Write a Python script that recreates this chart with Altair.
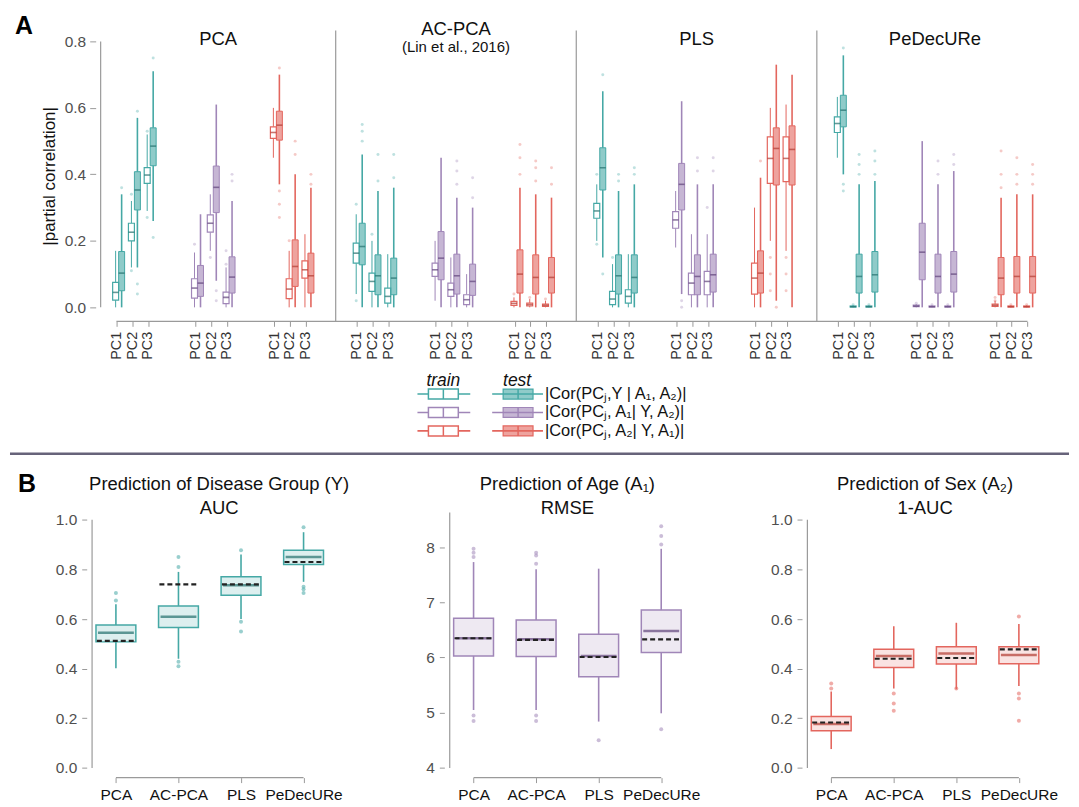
import json
import altair as alt
import pandas as pd

# ---------------------------------------------------------------- data
METHODS = ["PCA", "AC-PCA", "PLS", "PeDecURe"]
GROUPS = ["Y", "A1", "A2"]
PCS = ["PC1", "PC2", "PC3"]
SPLITS = ["train", "test"]
LEGEND_LABELS = ["|Cor(PCⱼ,Y | A₁, A₂)|", "|Cor(PCⱼ, A₁| Y, A₂)|", "|Cor(PCⱼ, A₂| Y, A₁)|"]
Y_TICKS_A = [0.0, 0.2, 0.4, 0.6, 0.8]

# Panel A box statistics; order: group (Y, A1, A2) > PC (1..3) > split (train, test)
PCA_LO = [0.00, 0.00, 0.12, 0.12, 0.29, 0.26, 0.00, 0.00, 0.17, 0.08, 0.00, 0.00, 0.45, 0.37, 0.00, 0.00, 0.00, 0.00]
PCA_Q1 = [0.022, 0.050, 0.200, 0.293, 0.373, 0.426, 0.028, 0.033, 0.226, 0.285, 0.011, 0.043, 0.508, 0.503, 0.026, 0.063, 0.088, 0.043]
PCA_MED = [0.045, 0.103, 0.226, 0.353, 0.398, 0.485, 0.058, 0.073, 0.253, 0.361, 0.030, 0.091, 0.526, 0.548, 0.055, 0.123, 0.113, 0.095]
PCA_Q3 = [0.075, 0.168, 0.253, 0.408, 0.420, 0.540, 0.086, 0.126, 0.278, 0.425, 0.046, 0.152, 0.543, 0.590, 0.086, 0.203, 0.140, 0.163]
PCA_HI = [0.17, 0.34, 0.32, 0.57, 0.52, 0.71, 0.165, 0.28, 0.34, 0.61, 0.12, 0.32, 0.60, 0.70, 0.17, 0.40, 0.22, 0.36]
PCA_OUT = [(1, 0.36), (2, 0.34), (2, 0.11), (3, 0.59), (3, 0.04), (3, 0.07), (4, 0.27), (4, 0.53), (5, 0.21),
           (5, 0.75), (6, 0.19), (8, 0.15), (9, 0.02), (9, 0.05), (10, 0.13), (10, 0.17), (11, 0.38), (11, 0.40),
           (13, 0.27), (13, 0.31), (13, 0.35), (13, 0.72), (14, 0.20), (15, 0.46), (15, 0.50), (17, 0.37), (17, 0.40)]

ACPCA_LO = [0.04, 0.00, 0.00, 0.00, 0.00, 0.00, 0.02, 0.00, 0.00, 0.00, 0.00, 0.00, 0.00, 0.00, 0.00, 0.00, 0.00, 0.00]
ACPCA_Q1 = [0.133, 0.128, 0.048, 0.038, 0.013, 0.038, 0.093, 0.083, 0.033, 0.040, 0.008, 0.036, 0.006, 0.043, 0.004, 0.040, 0.003, 0.043]
ACPCA_MED = [0.163, 0.183, 0.078, 0.095, 0.033, 0.088, 0.113, 0.148, 0.053, 0.095, 0.023, 0.078, 0.012, 0.100, 0.008, 0.090, 0.006, 0.090]
ACPCA_Q3 = [0.193, 0.253, 0.103, 0.158, 0.058, 0.148, 0.133, 0.228, 0.073, 0.160, 0.038, 0.130, 0.018, 0.173, 0.013, 0.158, 0.010, 0.150]
ACPCA_HI = [0.28, 0.46, 0.20, 0.35, 0.16, 0.36, 0.20, 0.45, 0.15, 0.33, 0.10, 0.30, 0.03, 0.36, 0.025, 0.34, 0.02, 0.33]
ACPCA_OUT = [(0, 0.31), (0, 0.02), (1, 0.50), (1, 0.53), (1, 0.55), (2, 0.22), (3, 0.38), (3, 0.46), (5, 0.39),
             (5, 0.46), (9, 0.37), (9, 0.41), (9, 0.44), (11, 0.33), (11, 0.39), (12, 0.04), (13, 0.40), (13, 0.45),
             (13, 0.49), (14, 0.03), (15, 0.38), (15, 0.42), (15, 0.44), (16, 0.025), (17, 0.37), (17, 0.42)]

PLS_LO = [0.20, 0.15, 0.00, 0.00, 0.00, 0.00, 0.18, 0.04, 0.00, 0.00, 0.00, 0.00, 0.00, 0.00, 0.20, 0.02, 0.17, 0.00]
PLS_Q1 = [0.268, 0.353, 0.008, 0.040, 0.013, 0.043, 0.238, 0.293, 0.038, 0.038, 0.038, 0.046, 0.040, 0.043, 0.373, 0.368, 0.378, 0.368]
PLS_MED = [0.290, 0.420, 0.025, 0.095, 0.033, 0.090, 0.263, 0.370, 0.073, 0.093, 0.078, 0.098, 0.088, 0.103, 0.448, 0.478, 0.448, 0.475]
PLS_Q3 = [0.313, 0.480, 0.048, 0.158, 0.053, 0.158, 0.288, 0.433, 0.103, 0.158, 0.108, 0.160, 0.133, 0.170, 0.513, 0.540, 0.513, 0.546]
PLS_HI = [0.37, 0.65, 0.13, 0.35, 0.16, 0.37, 0.35, 0.62, 0.22, 0.37, 0.22, 0.37, 0.30, 0.39, 0.60, 0.73, 0.61, 0.70]
PLS_OUT = [(0, 0.19), (0, 0.40), (1, 0.10), (1, 0.70), (2, 0.15), (3, 0.38), (3, 0.40), (5, 0.40), (5, 0.42),
           (7, 0.00), (7, 0.02), (9, 0.41), (9, 0.45), (10, 0.30), (11, 0.41), (11, 0.45), (13, 0.44), (14, 0.05),
           (14, 0.10), (14, 0.15), (15, 0.00), (16, 0.05), (16, 0.10), (16, 0.15)]

PDU_LO = [0.45, 0.40, 0.00, 0.00, 0.00, 0.00, 0.00, 0.00, 0.00, 0.00, 0.00, 0.00, 0.00, 0.00, 0.00, 0.00, 0.00, 0.00]
PDU_Q1 = [0.526, 0.543, 0.001, 0.043, 0.001, 0.046, 0.002, 0.083, 0.001, 0.043, 0.001, 0.046, 0.003, 0.038, 0.001, 0.043, 0.001, 0.043]
PDU_MED = [0.553, 0.593, 0.002, 0.093, 0.002, 0.098, 0.004, 0.166, 0.002, 0.093, 0.002, 0.100, 0.006, 0.088, 0.002, 0.093, 0.002, 0.093]
PDU_Q3 = [0.573, 0.638, 0.004, 0.160, 0.004, 0.168, 0.007, 0.253, 0.004, 0.160, 0.004, 0.168, 0.010, 0.150, 0.004, 0.153, 0.004, 0.153]
PDU_HI = [0.633, 0.758, 0.006, 0.37, 0.006, 0.38, 0.010, 0.50, 0.006, 0.37, 0.006, 0.41, 0.020, 0.33, 0.006, 0.34, 0.006, 0.34]
PDU_OUT = [(1, 0.35), (1, 0.37), (1, 0.78), (2, 0.008), (3, 0.40), (3, 0.43), (3, 0.46), (4, 0.008), (5, 0.40),
           (5, 0.44), (5, 0.47), (6, 0.012), (8, 0.008), (9, 0.40), (9, 0.44), (10, 0.008), (11, 0.43), (11, 0.46),
           (12, 0.02), (12, 0.03), (13, 0.36), (13, 0.40), (13, 0.47), (14, 0.008), (15, 0.37), (15, 0.40),
           (15, 0.45), (16, 0.008), (17, 0.37), (17, 0.40), (17, 0.43)]

# Panel B box statistics (one value per method)
AUC_LO = [0.402, 0.44, 0.60, 0.75]
AUC_Q1 = [0.508, 0.566, 0.696, 0.820]
AUC_MED = [0.545, 0.609, 0.736, 0.850]
AUC_Q3 = [0.576, 0.653, 0.770, 0.877]
AUC_HI = [0.66, 0.79, 0.86, 0.95]
AUC_REF = [0.512, 0.740, 0.740, 0.830]
AUC_OUT = [(0, 0.675), (0, 0.705), (1, 0.81), (1, 0.85), (1, 0.428), (1, 0.41), (2, 0.877), (2, 0.589),
           (2, 0.55), (3, 0.97), (3, 0.73), (3, 0.72), (3, 0.705)]

RMSE_LO = [5.05, 5.05, 4.84, 4.99]
RMSE_Q1 = [6.03, 6.02, 5.65, 6.09]
RMSE_MED = [6.35, 6.33, 6.03, 6.48]
RMSE_Q3 = [6.71, 6.68, 6.42, 6.86]
RMSE_HI = [7.73, 7.60, 7.61, 7.97]
RMSE_REF = [6.35, 6.32, 6.01, 6.33]
RMSE_OUT = [(0, 7.82), (0, 7.90), (0, 7.97), (0, 4.95), (0, 4.85), (1, 7.70), (1, 7.85), (1, 7.90), (1, 4.95),
            (1, 4.85), (2, 4.50), (3, 8.05), (3, 8.20), (3, 8.38), (3, 4.70)]

SEX_LO = [0.076, 0.32, 0.317, 0.33]
SEX_Q1 = [0.150, 0.405, 0.419, 0.420]
SEX_MED = [0.177, 0.451, 0.461, 0.455]
SEX_Q3 = [0.207, 0.478, 0.488, 0.488]
SEX_HI = [0.308, 0.571, 0.585, 0.58]
SEX_REF = [0.183, 0.440, 0.443, 0.478]
SEX_OUT = [(0, 0.32), (0, 0.34), (1, 0.30), (1, 0.26), (1, 0.23), (2, 0.32), (3, 0.61), (3, 0.30), (3, 0.28),
           (3, 0.19)]

# ---------------------------------------------------------------- style / geometry
FONT = "Liberation Sans"
COL = ["#45a8a5", "#a086b8", "#e3665e"]
DARK = ["#23706d", "#5f437a", "#b23a32"]
AXIS_GREY = "#9a9a9a"
LABEL_GREY = "#4f4f4f"
TITLE_SIZE = 18.5
TICK_SIZE = 15.5

PANEL_STEP = 15.25
GROUP_STEP = 5
SPLIT_OFF = [-0.05, 0.33]
SEP_OFF = 13.9
X_MIN, X_MAX = -1.0, 59.375
Y_MIN, Y_MAX = -0.042, 0.833
A_W, A_H = 966, 292

STATS_A = [
    (PCA_LO, PCA_Q1, PCA_MED, PCA_Q3, PCA_HI, PCA_OUT),
    (ACPCA_LO, ACPCA_Q1, ACPCA_MED, ACPCA_Q3, ACPCA_HI, ACPCA_OUT),
    (PLS_LO, PLS_Q1, PLS_MED, PLS_Q3, PLS_HI, PLS_OUT),
    (PDU_LO, PDU_Q1, PDU_MED, PDU_Q3, PDU_HI, PDU_OUT),
]


def box_pos(m, b):
    g, p, s = b // 6, (b // 2) % 3, b % 2
    return m * PANEL_STEP + g * GROUP_STEP + p + SPLIT_OFF[s], g, s


rows, orows = [], []
for m, (lo, q1, med, q3, hi, out) in enumerate(STATS_A):
    for b in range(18):
        pos, g, s = box_pos(m, b)
        rows.append(dict(pos=pos, split=SPLITS[s], lo=lo[b], q1=q1[b], med=med[b], q3=q3[b], hi=hi[b],
                         col=COL[g], dark=DARK[g], sw=1.0 if s == 0 else 1.6))
    for b, v in out:
        pos, g, s = box_pos(m, b)
        orows.append(dict(pos=pos, v=v, col=COL[g]))
dfA = pd.DataFrame(rows)
dfO = pd.DataFrame(orows)

tick_vals = [m * PANEL_STEP + g * GROUP_STEP + p for m in range(4) for g in range(3) for p in range(3)]
sep_x = [m * PANEL_STEP + SEP_OFF for m in range(3)]
bounds = [X_MIN] + sep_x + [X_MAX]
centers = [(bounds[i] + bounds[i + 1]) / 2 for i in range(4)]

xsA = alt.Scale(domain=[X_MIN, X_MAX], nice=False, zero=False)
ysA = alt.Scale(domain=[Y_MIN, Y_MAX], nice=False, zero=False)
label_expr = (json.dumps(PCS) + "[round(datum.value - %s*floor((datum.value+1)/%s)) %% %d]"
              % (PANEL_STEP, PANEL_STEP, GROUP_STEP))
xaxA = alt.Axis(values=tick_vals, labelExpr=label_expr, labelAngle=270, labelAlign="right",
                labelBaseline="middle", labelFontSize=14.5, labelColor="#333333", labelOverlap=False,
                labelFlush=False, domain=False, tickSize=5, tickColor=AXIS_GREY, labelPadding=5,
                grid=False, title=None)
yaxA = alt.Axis(values=Y_TICKS_A, format=".1f", domain=False, tickSize=6, tickColor=AXIS_GREY,
                labelPadding=4, labelFontSize=TICK_SIZE, labelColor=LABEL_GREY, grid=False,
                title="|partial correlation|", titleFontSize=17, titleFontWeight="normal",
                titleColor="#111111", titlePadding=6)


def XA(f):
    return alt.X(f, scale=xsA, axis=xaxA)


def YA(f):
    return alt.Y(f, scale=ysA, axis=yaxA)


one = pd.DataFrame({"k": [0]})
baseA = alt.Chart(dfA)

whisk_lo = baseA.mark_rule().encode(x=XA("pos:Q"), y=YA("lo:Q"), y2="q1:Q",
                                    stroke=alt.Stroke("col:N", scale=None),
                                    strokeWidth=alt.StrokeWidth("sw:Q", scale=None))
whisk_hi = baseA.mark_rule().encode(x=XA("pos:Q"), y=YA("q3:Q"), y2="hi:Q",
                                    stroke=alt.Stroke("col:N", scale=None),
                                    strokeWidth=alt.StrokeWidth("sw:Q", scale=None))
outl = alt.Chart(dfO).mark_circle(size=9, opacity=0.35).encode(
    x=XA("pos:Q"), y=YA("v:Q"), color=alt.Color("col:N", scale=None))
train_box = baseA.transform_filter("datum.split == 'train'").mark_bar(
    size=6, fill="white", strokeWidth=1.2).encode(
    x=XA("pos:Q"), y=YA("q1:Q"), y2="q3:Q", stroke=alt.Stroke("col:N", scale=None))
test_box = baseA.transform_filter("datum.split == 'test'").mark_bar(
    size=6, fillOpacity=0.6, strokeWidth=1).encode(
    x=XA("pos:Q"), y=YA("q1:Q"), y2="q3:Q", fill=alt.Fill("col:N", scale=None),
    stroke=alt.Stroke("col:N", scale=None))
medA = baseA.mark_tick(orient="horizontal", size=6, thickness=1.6).encode(
    x=XA("pos:Q"), y=YA("med:Q"), color=alt.Color("dark:N", scale=None))

seps = alt.Chart(pd.DataFrame({"sx": sep_x})).mark_rule(color=AXIS_GREY, strokeWidth=1.2).encode(
    x=XA("sx:Q"), y=alt.YDatum(Y_MIN, scale=ysA, axis=yaxA), y2=alt.Y2Datum(Y_MAX))
yline = alt.Chart(one).mark_rule(color=AXIS_GREY, strokeWidth=1.2).encode(
    x=alt.XDatum(X_MIN, scale=xsA, axis=xaxA), y=alt.YDatum(0.0, scale=ysA, axis=yaxA),
    y2=alt.Y2Datum(Y_TICKS_A[-1]))
xline = alt.Chart(one).mark_rule(color=AXIS_GREY, strokeWidth=1.2).encode(
    y=alt.YDatum(Y_MIN, scale=ysA, axis=yaxA), x=alt.XDatum(tick_vals[0], scale=xsA, axis=xaxA),
    x2=alt.X2Datum(tick_vals[-1]))

titles_df = pd.DataFrame({"tx": centers, "label": METHODS})
title_main = alt.Chart(titles_df).transform_filter("datum.label != 'AC-PCA'").mark_text(
    fontSize=TITLE_SIZE, color="#111111").encode(x=XA("tx:Q"), y=alt.value(9), text="label:N")
title_ac = alt.Chart(titles_df).transform_filter("datum.label == 'AC-PCA'").mark_text(
    fontSize=TITLE_SIZE, color="#111111").encode(x=XA("tx:Q"), y=alt.value(-1), text="label:N")
title_sub = alt.Chart(titles_df).transform_filter("datum.label == 'AC-PCA'").mark_text(
    fontSize=15, color="#111111").encode(x=XA("tx:Q"), y=alt.value(17), text=alt.value("(Lin et al., 2016)"))

# legend (drawn below panel A)
LEG_Y0, LEG_DY = 365, 18.5
leg = pd.DataFrame({"label": LEGEND_LABELS, "col": COL,
                    "ly": [LEG_Y0 + i * LEG_DY for i in range(3)]})
leg["ly0"] = leg["ly"] - 5
leg["ly1"] = leg["ly"] + 5
legB = alt.Chart(leg)
LY = alt.Y("ly:Q", scale=None, axis=None)
LY0 = alt.Y("ly0:Q", scale=None, axis=None)
leg_layers = []
for (w0, w1, b0, b1, filled) in [(323, 376, 334, 364, False), (398, 449, 409, 439, True)]:
    leg_layers.append(legB.mark_rule(strokeWidth=1.6).encode(
        x=alt.value(w0), x2=alt.value(w1), y=LY, stroke=alt.Stroke("col:N", scale=None)))
    if filled:
        leg_layers.append(legB.mark_rect(fillOpacity=0.6, strokeWidth=1.2).encode(
            x=alt.value(b0), x2=alt.value(b1), y=LY0, y2="ly1:Q",
            fill=alt.Fill("col:N", scale=None), stroke=alt.Stroke("col:N", scale=None)))
    else:
        leg_layers.append(legB.mark_rect(fill="white", strokeWidth=1.5).encode(
            x=alt.value(b0), x2=alt.value(b1), y=LY0, y2="ly1:Q",
            stroke=alt.Stroke("col:N", scale=None)))
    leg_layers.append(legB.mark_rule(strokeWidth=1.5).encode(
        x=alt.value((b0 + b1) / 2), y=LY0, y2="ly1:Q", stroke=alt.Stroke("col:N", scale=None)))
leg_layers.append(legB.mark_text(align="left", baseline="middle", fontSize=16.5, color="#111111").encode(
    x=alt.value(451), y=LY, text="label:N"))
leg_head = alt.Chart(pd.DataFrame({"t": ["train", "test"], "hx": [349, 423]})).mark_text(
    fontSize=17.5, fontStyle="italic", color="#111111").encode(
    x=alt.X("hx:Q", scale=None, axis=None), y=alt.value(352), text="t:N")

# decorations: panel letters, divider line, top-left anchor
letter_A = alt.Chart(one).mark_text(fontSize=25, fontWeight="bold", color="#000000").encode(
    x=alt.value(-72), y=alt.value(-4), text=alt.value("A"))
letter_B = alt.Chart(one).mark_text(fontSize=25, fontWeight="bold", color="#000000").encode(
    x=alt.value(-69), y=alt.value(455), text=alt.value("B"))
divider = alt.Chart(one).mark_rule(color="#67637a", strokeWidth=2.5).encode(
    x=alt.value(-86), x2=alt.value(977), y=alt.value(425))
anchor = alt.Chart(one).mark_rule(color="white", strokeWidth=1).encode(
    x=alt.value(-86), x2=alt.value(-85), y=alt.value(-20))

panelA = alt.layer(
    anchor, seps, yline, xline, whisk_lo, whisk_hi, outl, train_box, test_box, medA,
    title_main, title_ac, title_sub, *leg_layers, leg_head, letter_A, letter_B, divider,
).properties(width=A_W, height=A_H)

# ---------------------------------------------------------------- panel B
B_STEP = 65.65
B_PAD = 0.244
B_W = round((len(METHODS) - 1 + 2 * B_PAD) * B_STEP)
B_H = 266
AXIS_OFF = 9


def box_panel(lo, q1, med, q3, hi, ref, out, color, dark, ydom, yvals, yfmt, yline_rng, t1, t2, tx):
    n = len(METHODS)
    df = pd.DataFrame({"i": list(range(n)), "lo": lo, "q1": q1, "med": med, "q3": q3, "hi": hi, "ref": ref})
    dfo = pd.DataFrame({"i": [o[0] for o in out], "v": [o[1] for o in out]})
    xs = alt.Scale(domain=[-B_PAD, n - 1 + B_PAD], nice=False, zero=False)
    ys = alt.Scale(domain=ydom, nice=False, zero=False)
    xax = alt.Axis(values=list(range(n)), labelExpr=json.dumps(METHODS) + "[datum.value]", domain=False,
                   tickSize=5, tickColor=AXIS_GREY, labelPadding=5, labelFontSize=TICK_SIZE,
                   labelColor="#111111", labelFlush=False, labelOverlap=False, grid=False, title=None)
    yax = alt.Axis(values=yvals, format=yfmt, offset=AXIS_OFF, domain=False, tickSize=5, tickColor=AXIS_GREY,
                   labelPadding=5, labelFontSize=TICK_SIZE, labelColor=LABEL_GREY, grid=False, title=None)
    X = alt.X("i:Q", scale=xs, axis=xax)

    def Y(f):
        return alt.Y(f, scale=ys, axis=yax)

    base = alt.Chart(df)
    half = 20 / B_STEP
    layers = [
        alt.Chart(one).mark_rule(color=AXIS_GREY, strokeWidth=1.2).encode(
            x=alt.XDatum(-B_PAD - AXIS_OFF / B_STEP, scale=xs, axis=xax),
            y=alt.YDatum(yline_rng[0], scale=ys, axis=yax), y2=alt.Y2Datum(yline_rng[1])),
        alt.Chart(one).mark_rule(color=AXIS_GREY, strokeWidth=1.2).encode(
            y=alt.YDatum(ydom[0], scale=ys, axis=yax), x=alt.XDatum(0, scale=xs, axis=xax),
            x2=alt.X2Datum(n - 1)),
        base.mark_rule(color=color, strokeWidth=1.6).encode(x=X, y=Y("lo:Q"), y2="q1:Q"),
        base.mark_rule(color=color, strokeWidth=1.6).encode(x=X, y=Y("q3:Q"), y2="hi:Q"),
        alt.Chart(dfo).mark_circle(size=16, color=color, opacity=0.55).encode(x=X, y=Y("v:Q")),
        base.mark_bar(size=40, fill=color, fillOpacity=0.18, stroke=color, strokeWidth=1.5).encode(
            x=X, y=Y("q1:Q"), y2="q3:Q"),
        base.mark_tick(orient="horizontal", size=36, thickness=2.5, color=dark).encode(x=X, y=Y("med:Q")),
        base.transform_calculate(xl="datum.i - %f" % half, xr="datum.i + %f" % half).mark_rule(
            strokeDash=[5, 3], strokeWidth=2.2, color="#222222").encode(
            x=alt.X("xl:Q", scale=xs, axis=xax), x2="xr:Q", y=Y("ref:Q")),
        alt.Chart(one).mark_text(fontSize=TITLE_SIZE, color="#111111").encode(
            x=alt.XDatum(tx, scale=xs, axis=xax), y=alt.value(-29), text=alt.value(t1)),
        alt.Chart(one).mark_text(fontSize=TITLE_SIZE, color="#111111").encode(
            x=alt.XDatum(tx, scale=xs, axis=xax), y=alt.value(-5), text=alt.value(t2)),
    ]
    return alt.layer(*layers).properties(width=B_W, height=B_H)


b1 = box_panel(AUC_LO, AUC_Q1, AUC_MED, AUC_Q3, AUC_HI, AUC_REF, AUC_OUT, COL[0], DARK[0],
               [-0.039, 1.029], [0.0, 0.2, 0.4, 0.6, 0.8, 1.0], ".1f", [0.0, 1.0],
               "Prediction of Disease Group (Y)", "AUC", 1.65)
b2 = box_panel(RMSE_LO, RMSE_Q1, RMSE_MED, RMSE_Q3, RMSE_HI, RMSE_REF, RMSE_OUT, COL[1], DARK[1],
               [3.825, 8.626], [4, 5, 6, 7, 8], "d", [4.0, 8.626],
               "Prediction of Age (A₁)", "RMSE", 1.5)
b3 = box_panel(SEX_LO, SEX_Q1, SEX_MED, SEX_Q3, SEX_HI, SEX_REF, SEX_OUT, COL[2], DARK[2],
               [-0.039, 1.029], [0.0, 0.2, 0.4, 0.6, 0.8, 1.0], ".1f", [0.0, 1.0],
               "Prediction of Sex (A₂)", "1-AUC", 1.5)

panelB = alt.hconcat(b1, b2, b3, spacing=130, bounds="flush")

chart = alt.vconcat(panelA, panelB, spacing=192, bounds="flush", padding=0).configure(
    font=FONT).configure_view(stroke=None)

chart.save("out.html", embed_options={"renderer": "svg", "actions": False})
